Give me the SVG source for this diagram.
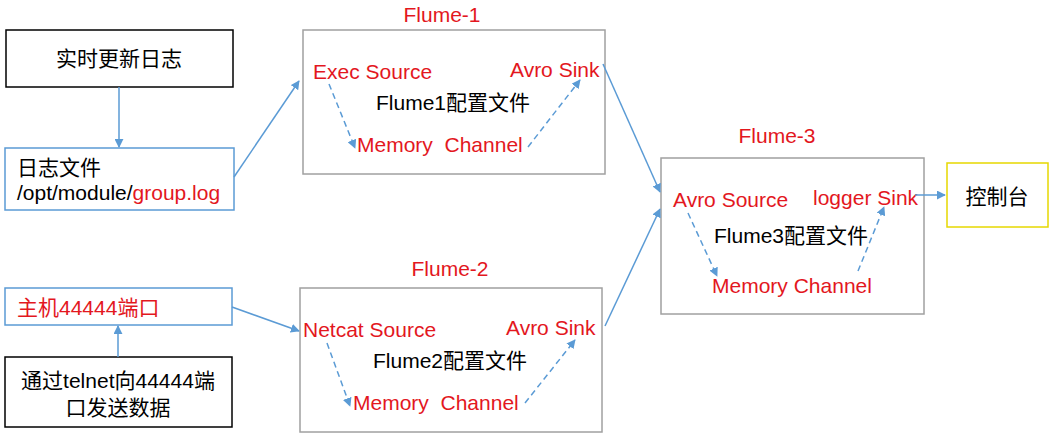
<svg xmlns="http://www.w3.org/2000/svg" width="1053" height="437" viewBox="0 0 1053 437">
<defs>
<marker id="ah" viewBox="0 0 10 10" refX="9" refY="5" markerWidth="9" markerHeight="9" markerUnits="userSpaceOnUse" orient="auto"><path d="M0,0 L10,5 L0,10 z" fill="#5B9BD5"/></marker>
<style>
text{font-family:"Liberation Sans","Noto Sans CJK SC",sans-serif;font-size:21px;fill:#000}
.r{fill:#E3171E}
.box{fill:#fff;stroke-width:1.5}
.k{stroke:#000}
.b{stroke:#5B9BD5}
.g{stroke:#A0A0A0}
.y{stroke:#E6D800}
.c{fill:none;stroke:#5B9BD5;stroke-width:1.5;marker-end:url(#ah)}
.d{stroke-dasharray:6,4}
</style>
</defs>
<rect width="1053" height="437" fill="#fff"/>
<g id="realtime-log">
<rect class="box k" x="6" y="30" width="227" height="57"/>
<text x="119" y="66" text-anchor="middle">实时更新日志</text>
</g>
<g id="log-file">
<rect class="box b" x="5" y="148" width="229" height="62"/>
<text x="17" y="175">日志文件</text>
<text x="17" y="200">/opt/module/<tspan class="r">group.log</tspan></text>
</g>
<g id="port">
<rect class="box b" x="5" y="288" width="227" height="37"/>
<text class="r" x="17" y="315">主机44444端口</text>
</g>
<g id="telnet">
<rect class="box k" x="5" y="357" width="227" height="70"/>
<text x="118" y="388" text-anchor="middle">通过telnet向44444端</text>
<text x="118" y="415" text-anchor="middle">口发送数据</text>
</g>
<g id="flume1">
<rect class="box g" x="303" y="30" width="302" height="144"/>
<text class="r" x="442" y="22" text-anchor="middle">Flume-1</text>
<text class="r" x="313" y="79">Exec Source</text>
<text class="r" x="510" y="77">Avro Sink</text>
<text x="376" y="110">Flume1配置文件</text>
<text class="r" x="357" y="152" xml:space="preserve">Memory  Channel</text>
</g>
<g id="flume2">
<rect class="box g" x="300" y="288" width="302" height="144"/>
<text class="r" x="450" y="276" text-anchor="middle">Flume-2</text>
<text class="r" x="303" y="337">Netcat Source</text>
<text class="r" x="506" y="335">Avro Sink</text>
<text x="373" y="368">Flume2配置文件</text>
<text class="r" x="353" y="410" xml:space="preserve">Memory  Channel</text>
</g>
<g id="flume3">
<rect class="box g" x="661" y="158" width="263" height="156"/>
<text class="r" x="777" y="143" text-anchor="middle">Flume-3</text>
<text class="r" x="673" y="207">Avro Source</text>
<text class="r" x="813" y="205">logger Sink</text>
<text x="714" y="243">Flume3配置文件</text>
<text class="r" x="712" y="293">Memory Channel</text>
</g>
<g id="console">
<rect class="box y" x="947" y="163" width="101" height="64"/>
<text x="997" y="204" text-anchor="middle">控制台</text>
</g>
<g id="connectors">
<line class="c" x1="119" y1="87" x2="119" y2="147"/>
<line class="c" x1="234" y1="177" x2="299" y2="81"/>
<line class="c" x1="232" y1="307" x2="299" y2="331"/>
<line class="c" x1="118" y1="357" x2="118" y2="326"/>
<line class="c d" x1="329" y1="84" x2="355" y2="148"/>
<line class="c d" x1="528" y1="147" x2="580" y2="80"/>
<line class="c d" x1="327" y1="343" x2="350" y2="406"/>
<line class="c d" x1="525" y1="403" x2="575" y2="340"/>
<line class="c d" x1="688" y1="213" x2="717" y2="276"/>
<line class="c d" x1="858" y1="271" x2="884" y2="207"/>
<line class="c" x1="603" y1="64" x2="660" y2="192"/>
<line class="c" x1="605" y1="326" x2="660" y2="209"/>
<line class="c" x1="915" y1="195" x2="945" y2="195"/>
</g>
</svg>
